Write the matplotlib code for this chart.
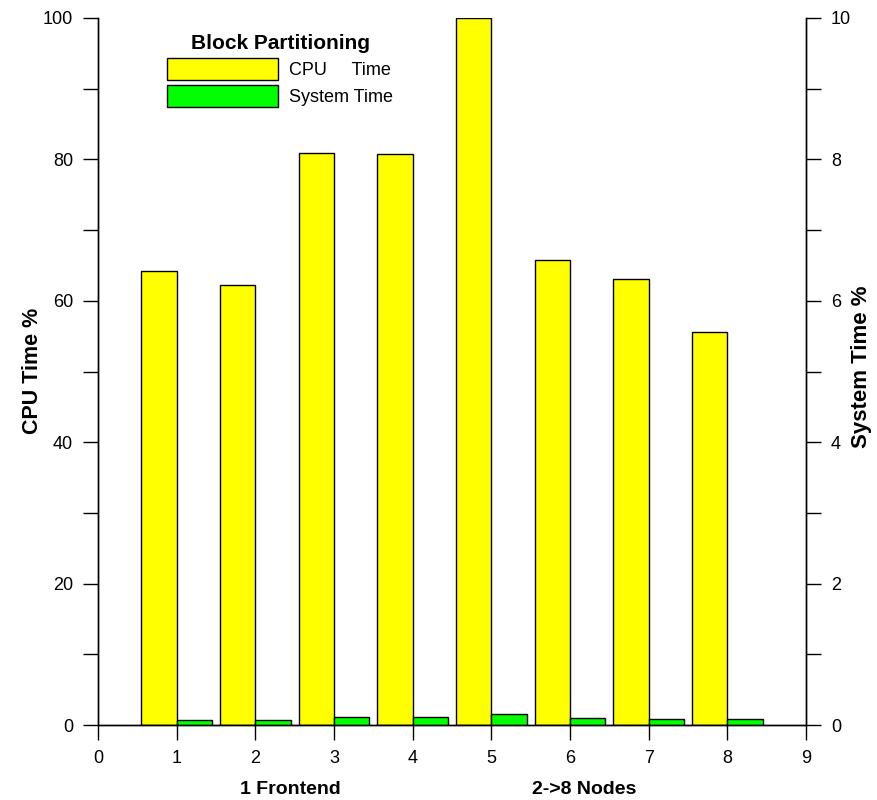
import matplotlib
matplotlib.use("Agg")
import matplotlib.pyplot as plt
from matplotlib.ticker import MultipleLocator

plt.rcParams['font.family'] = ['Liberation Sans', 'DejaVu Sans']

nodes = [1, 2, 3, 4, 5, 6, 7, 8]
cpu_time = [64.2, 62.2, 80.9, 80.8, 100.0, 65.8, 63.1, 55.6]
system_time = [0.07, 0.07, 0.12, 0.12, 0.15, 0.10, 0.08, 0.09]
xticks = [0, 1, 2, 3, 4, 5, 6, 7, 8, 9]

fig = plt.figure(figsize=(8.77, 8.0), dpi=100)
ax = fig.add_axes([98/877, 75/800, (806-98)/877, (725-18)/800])
ax2 = ax.twinx()

w = 0.45
b1 = ax.bar([n - w for n in nodes], cpu_time, width=w, align='edge',
            color='#ffff00', edgecolor='black', linewidth=1.0)
b2 = ax2.bar(nodes, system_time, width=w, align='edge', color='#00ff00',
             edgecolor='black', linewidth=1.0)

ax.set_xlim(0, 9)
ax.set_ylim(0, 100)
ax2.set_ylim(0, 10)
ax.set_xticks(xticks)
ax.set_yticks([0, 20, 40, 60, 80, 100])
ax.yaxis.set_minor_locator(MultipleLocator(10))
ax2.set_yticks([0, 2, 4, 6, 8, 10])
ax2.yaxis.set_minor_locator(MultipleLocator(1))

for a in (ax, ax2):
    a.spines['top'].set_visible(False)
    for s in a.spines.values():
        s.set_linewidth(1.0)
    a.tick_params(which='both', direction='out', length=11, width=1.0,
                  labelsize=13, pad=7)
ax.tick_params(axis='x', pad=7)

fig.text(32/877, 1 - 371/800, 'CPU Time %', rotation=90, ha='center',
         va='center', fontsize=15.5, fontweight='bold')
fig.text(862/877, 1 - 367/800, 'System Time %', rotation=90, ha='center',
         va='center', fontsize=16, fontweight='bold')

fig.text(290/877, 1 - 790/800, '1 Frontend', ha='center', va='center',
         fontsize=14, fontweight='bold')
fig.text(584/877, 1 - 790/800, '2->8 Nodes', ha='center', va='center',
         fontsize=14, fontweight='bold')

leg = ax.legend([b1, b2], ['CPU     Time', 'System Time'],
                title='Block Partitioning', frameon=False,
                loc='upper left', bbox_to_anchor=(154/877, 1 - 21/800),
                bbox_transform=fig.transFigure,
                fontsize=13, handlelength=6.15, handleheight=1.47,
                handletextpad=0.65, labelspacing=0.3, borderpad=0.2,
                title_fontproperties={'weight': 'bold', 'size': 15})

fig.savefig('out.png', dpi=100)
